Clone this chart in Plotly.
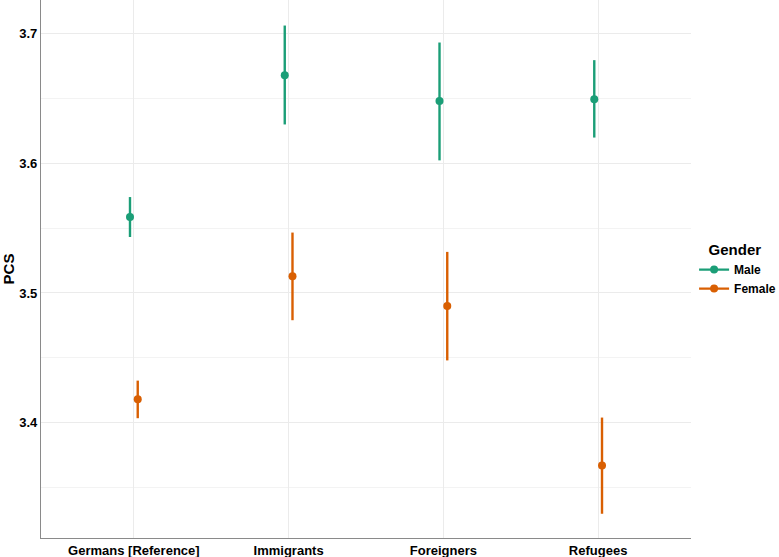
import plotly.graph_objects as go

categories = ["Germans [Reference]", "Immigrants", "Foreigners", "Refugees"]
genders = ["Male", "Female"]
colors = ["#1B9E77", "#D95F02"]

male_est = [3.5586, 3.668, 3.648, 3.6495]
male_lo = [3.5432, 3.630, 3.6023, 3.6199]
male_hi = [3.574, 3.7063, 3.6932, 3.6796]

female_est = [3.418, 3.513, 3.490, 3.3669]
female_lo = [3.4034, 3.479, 3.448, 3.3297]
female_hi = [3.4324, 3.5466, 3.5317, 3.4039]

dodge = [-0.025, 0.025]
series = [(male_est, male_lo, male_hi), (female_est, female_lo, female_hi)]

fig = go.Figure()
for g, (est, lo, hi), col, dx in zip(genders, series, colors, dodge):
    xs = [i + 1 + dx for i in range(len(categories))]
    fig.add_trace(go.Scatter(
        x=xs, y=est, mode="markers", name=g, showlegend=False,
        legendgroup=g,
        marker=dict(color=col, size=8),
        error_y=dict(type="data", symmetric=False,
                     array=[h - e for h, e in zip(hi, est)],
                     arrayminus=[e - l for e, l in zip(est, lo)],
                     color=col, thickness=2.4, width=0),
    ))
    # legend key: line with dot, as in ggplot pointrange
    fig.add_trace(go.Scatter(
        x=[None], y=[None], mode="lines+markers", name=g, legendgroup=g,
        line=dict(color=col, width=2.4), marker=dict(color=col, size=8),
    ))

font = "Liberation Sans, Arial, sans-serif"
fig.update_layout(
    width=779, height=557,
    margin=dict(l=41, r=88, t=0, b=19, autoexpand=False),
    plot_bgcolor="white", paper_bgcolor="white",
    font=dict(family=font, color="black"),
    showlegend=True,
    legend=dict(
        title=dict(text="&nbsp;&nbsp;&nbsp;<b>Gender</b>", font=dict(size=15)),
        font=dict(size=12, weight=700),
        xref="container", yref="container",
        x=0.891, xanchor="left", y=0.516, yanchor="middle",
        tracegroupgap=0, itemwidth=30,
    ),
    xaxis=dict(
        range=[0.4, 4.6], tickvals=[1, 2, 3, 4], ticktext=categories,
        showgrid=True, gridcolor="#ebebeb", gridwidth=1,
        showline=True, linecolor="#8a8a8a", linewidth=1.2,
        zeroline=False, ticks="",
        tickfont=dict(size=13, weight=700, color="black"),
    ),
    yaxis=dict(
        range=[3.311, 3.726], tickvals=[3.4, 3.5, 3.6, 3.7],
        ticktext=["3.4", "3.5", "3.6", "3.7"],
        showgrid=True, gridcolor="#ebebeb", gridwidth=1,
        minor=dict(tickvals=[3.35, 3.45, 3.55, 3.65], showgrid=True,
                   gridcolor="#f3f3f3", gridwidth=1),
        showline=True, linecolor="#8a8a8a", linewidth=1.2,
        zeroline=False, ticks="",
        tickfont=dict(size=13, weight=700, color="black"),
        title=dict(text="<b>PCS</b>", font=dict(size=15), standoff=6),
    ),
)

fig.write_html("out.html")
